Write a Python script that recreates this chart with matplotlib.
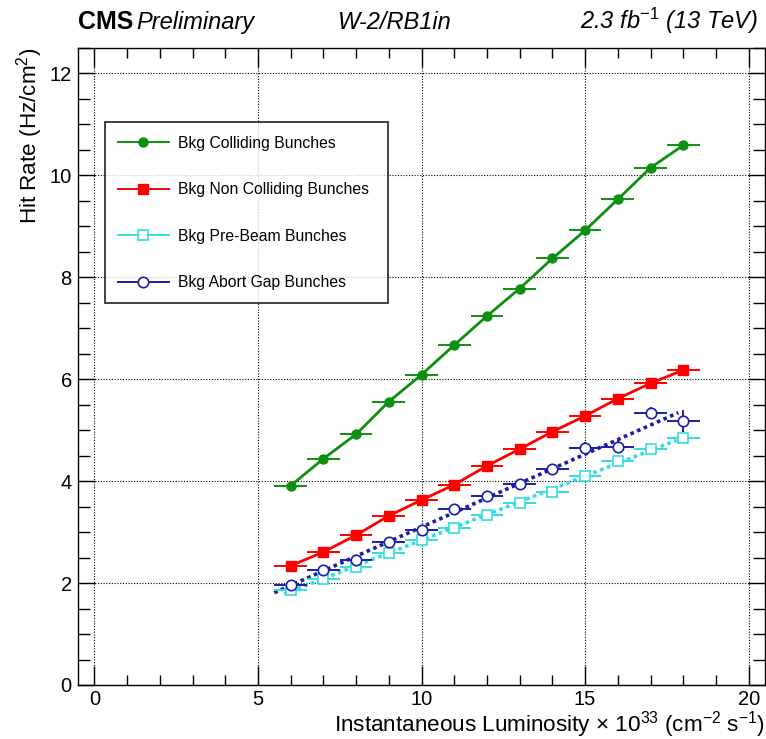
import numpy as np
import matplotlib
matplotlib.use("Agg")
import matplotlib.pyplot as plt
from matplotlib.lines import Line2D
from matplotlib.ticker import MultipleLocator

plt.rcParams['font.family'] = ['Liberation Sans', 'DejaVu Sans']
plt.rcParams['mathtext.fontset'] = 'custom'
plt.rcParams['mathtext.rm'] = 'Liberation Sans'
plt.rcParams['mathtext.it'] = 'Liberation Sans:italic'
plt.rcParams['mathtext.bf'] = 'Liberation Sans:bold'

# ---------------- data ----------------
lumi = [6, 7, 8, 9, 10, 11, 12, 13, 14, 15, 16, 17, 18]
lumi_err = 0.5
colliding = [3.91, 4.44, 4.92, 5.56, 6.09, 6.67, 7.24, 7.78, 8.37, 8.92, 9.53, 10.15, 10.59]
noncolliding = [2.34, 2.61, 2.94, 3.32, 3.63, 3.93, 4.30, 4.63, 4.97, 5.28, 5.62, 5.92, 6.18]
prebeam = [1.87, 2.08, 2.31, 2.60, 2.85, 3.09, 3.34, 3.57, 3.79, 4.10, 4.40, 4.63, 4.84]
abortgap = [1.96, 2.25, 2.45, 2.81, 3.05, 3.45, 3.71, 3.95, 4.24, 4.66, 4.68, 5.33, 5.18]
colliding_err = [0.04] * 13
noncolliding_err = [0.04] * 13
prebeam_err = [0.04] * 13
abortgap_err = [0.05] * 9 + [0.11, 0.12, 0.12, 0.21]

fit_range_abort = (5.5, 17.85)
fit_range_prebeam = (5.8, 17.8)

labels = ["Bkg Colliding Bunches", "Bkg Non Colliding Bunches",
          "Bkg Pre-Beam Bunches", "Bkg Abort Gap Bunches"]

c_green = '#0f8f0f'
c_red = '#ff0000'
c_cyan = '#33dede'
c_blue = '#1c1ca8'

W, H = 766, 739
fig = plt.figure(figsize=(W / 100, H / 100), dpi=100)
L, R, B, T = 78, 765, 685, 48
ax = fig.add_axes([L / W, 1 - B / H, (R - L) / W, (B - T) / H])

ax.set_xlim(-0.5, 20.5)
ax.set_ylim(0, 12.5)
ax.xaxis.set_major_locator(MultipleLocator(5))
ax.xaxis.set_minor_locator(MultipleLocator(1))
ax.yaxis.set_major_locator(MultipleLocator(2))
ax.yaxis.set_minor_locator(MultipleLocator(0.5))
ax.tick_params(axis='both', which='both', direction='in', top=True, right=True, labelsize=14.5)
ax.tick_params(axis='x', which='major', length=13.5, width=1, pad=3.5)
ax.tick_params(axis='x', which='minor', length=7, width=1)
ax.tick_params(axis='y', which='major', length=12, width=1, pad=4.5)
ax.tick_params(axis='y', which='minor', length=8.5, width=1)
for s in ax.spines.values():
    s.set_linewidth(1.0)
ax.grid(True, which='major', linestyle=(0, (1, 1.5)), color='black', linewidth=0.8)
ax.set_axisbelow(True)

eb_kw = dict(elinewidth=1.4, capsize=0, linestyle='none')

# colliding
ax.plot(lumi, colliding, color=c_green, lw=2.0, zorder=3)
ax.errorbar(lumi, colliding, xerr=lumi_err, yerr=colliding_err, color=c_green,
            marker='o', ms=6.5, mfc=c_green, mec=c_green, zorder=4, **eb_kw)
# non colliding
ax.plot(lumi, noncolliding, color=c_red, lw=2.0, zorder=3)
ax.errorbar(lumi, noncolliding, xerr=lumi_err, yerr=noncolliding_err, color=c_red,
            marker='s', ms=7, mfc=c_red, mec=c_red, zorder=4, **eb_kw)
# pre-beam (linear fit, dotted)
p_pb = np.polyfit(lumi, prebeam, 1)
xf = np.linspace(*fit_range_prebeam, 50)
ax.plot(xf, np.polyval(p_pb, xf), color=c_cyan, lw=2.6, linestyle=(0, (1, 1)), zorder=3)
ax.errorbar(lumi, prebeam, xerr=lumi_err, yerr=prebeam_err, color=c_cyan,
            marker='s', ms=7.5, mfc='white', mec=c_cyan, mew=1.2, zorder=4, **eb_kw)
# abort gap (linear fit, dotted)
p_ag = np.polyfit(lumi, abortgap, 1)
xf = np.linspace(*fit_range_abort, 50)
ax.plot(xf, np.polyval(p_ag, xf), color=c_blue, lw=2.6, linestyle=(0, (1, 1)), zorder=3)
ax.errorbar(lumi, abortgap, xerr=lumi_err, yerr=abortgap_err, color=c_blue,
            marker='o', ms=7.5, mfc='white', mec=c_blue, mew=1.2, zorder=4, **eb_kw)

# axis titles
fig.text(765 / W, 1 - 731 / H,
         r"Instantaneous Luminosity $\times$ 10$^{33}$ (cm$^{-2}$ s$^{-1}$)",
         fontsize=16.2, ha='right', va='baseline')
fig.text(30 / W, 1 - 48 / H, r"Hit Rate (Hz/cm$^{2}$)", fontsize=16.2,
         rotation=90, ha='center', va='top')

# legend
handles = [
    Line2D([], [], color=c_green, lw=1.4, marker='o', ms=6.5, mfc=c_green, mec=c_green),
    Line2D([], [], color=c_red, lw=1.4, marker='s', ms=7, mfc=c_red, mec=c_red),
    Line2D([], [], color=c_cyan, lw=1.4, marker='s', ms=7.5, mfc='white', mec=c_cyan, mew=1.2),
    Line2D([], [], color=c_blue, lw=1.4, marker='o', ms=7.5, mfc='white', mec=c_blue, mew=1.2),
]
lx0, ly0, lx1 = 105, 122.5, 388
leg = fig.legend(handles, labels, loc='upper left',
                 bbox_to_anchor=(lx0 / W, 1 - ly0 / H, (lx1 - lx0) / W, 0.0),
                 mode='expand', fontsize=11.3, frameon=True, fancybox=False,
                 edgecolor='black', handlelength=3.2, handletextpad=0.6,
                 labelspacing=2.0, borderpad=0.85, borderaxespad=0.0)
leg.get_frame().set_linewidth(1.3)

# header texts
fig.text(78 / W, 1 - 29 / H, "CMS", fontsize=18, fontweight='bold', ha='left', va='baseline')
fig.text(136 / W, 1 - 29 / H, "Preliminary", fontsize=17, style='italic', ha='left', va='baseline')
fig.text(395 / W, 1 - 29 / H, "W-2/RB1in", fontsize=17, style='italic', ha='center', va='baseline')
fig.text(758 / W, 1 - 29 / H, r"2.3 fb$^{-1}$ (13 TeV)", fontsize=17, style='italic',
         ha='right', va='baseline')

fig.savefig("out.png", dpi=100)
